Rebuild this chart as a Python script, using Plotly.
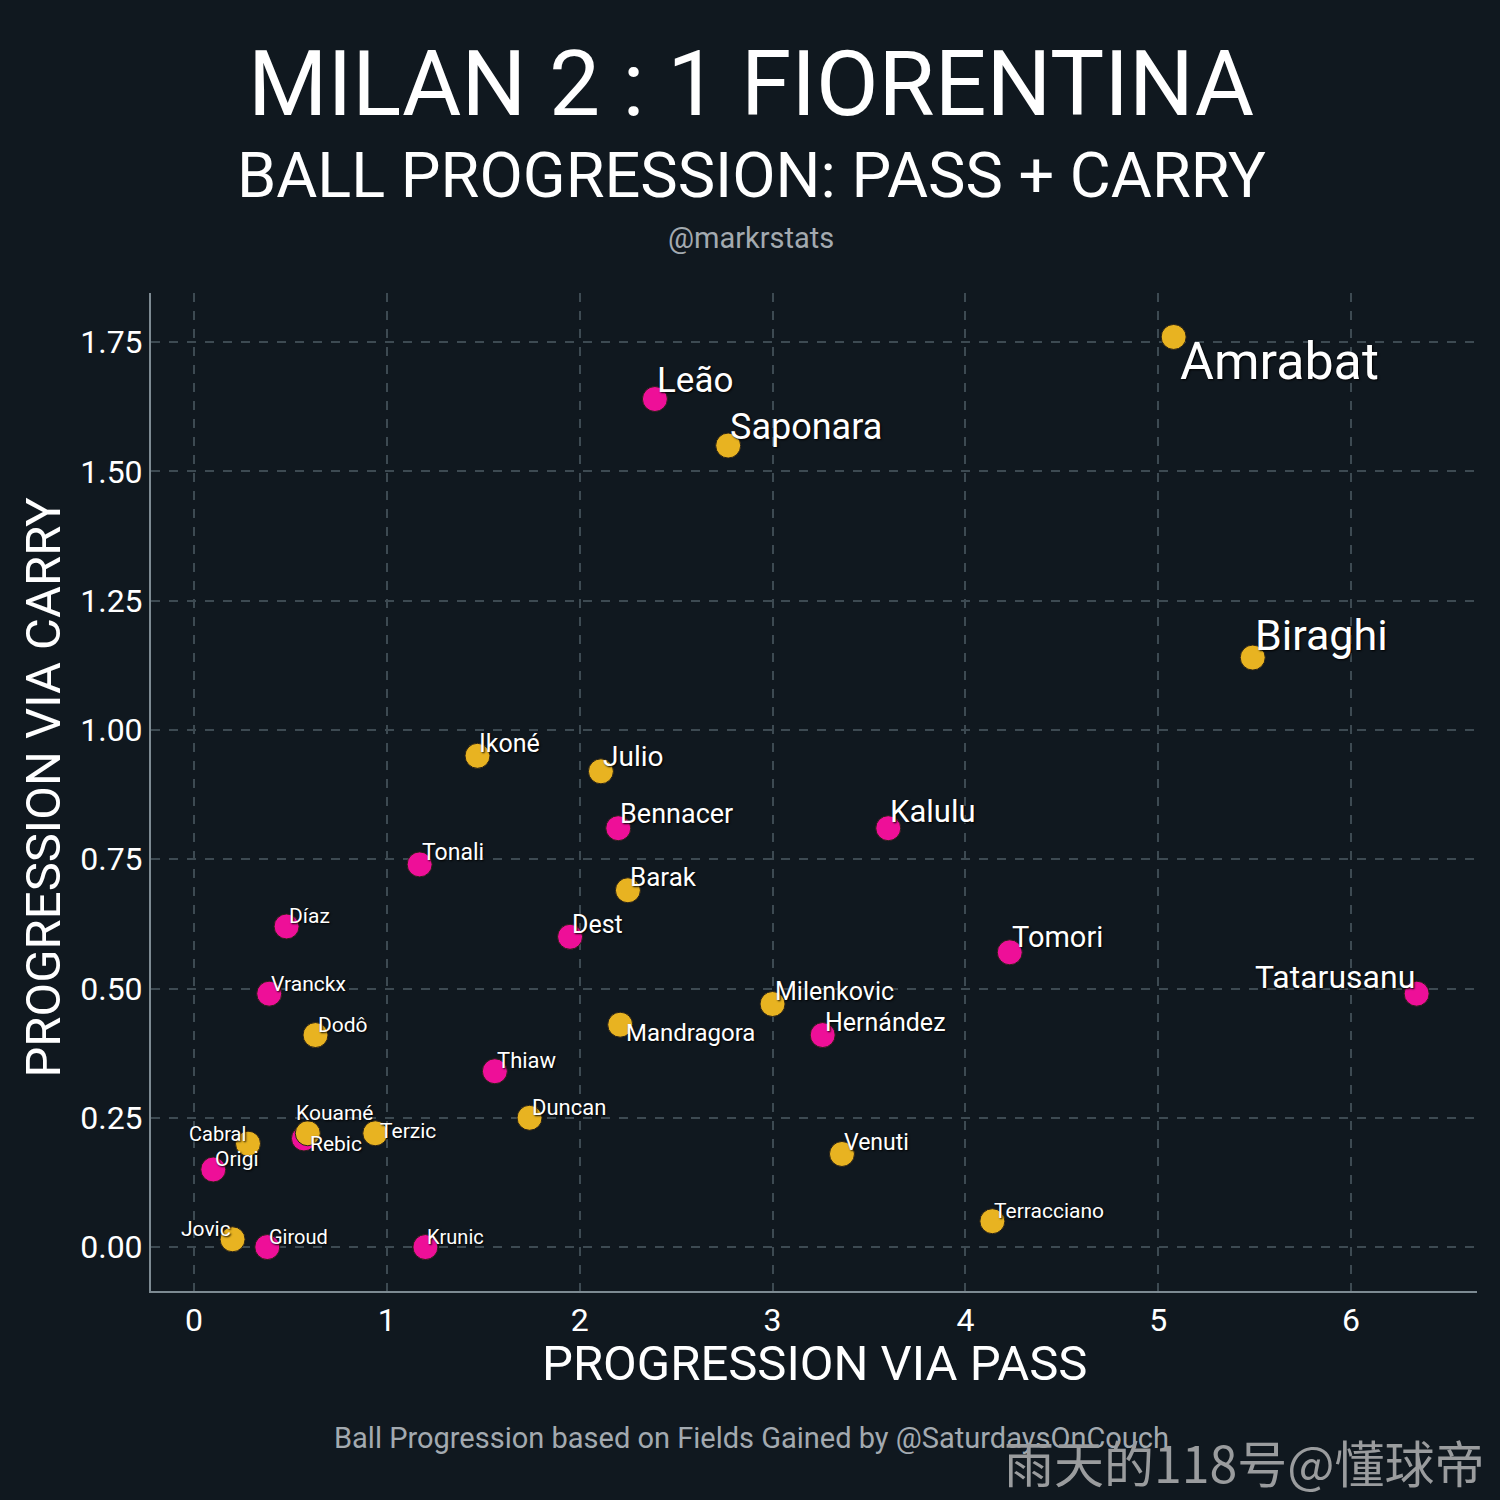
import plotly.graph_objects as go

# player data
players = ["Amrabat", "Leão", "Saponara", "Biraghi", "Ikoné", "Julio", "Bennacer",
           "Kalulu", "Tonali", "Barak", "Díaz", "Dest", "Tomori", "Vranckx",
           "Tatarusanu", "Milenkovic", "Mandragora", "Hernández", "Dodô", "Thiaw",
           "Duncan", "Cabral", "Rebic", "Kouamé", "Terzic", "Origi", "Venuti",
           "Terracciano", "Jovic", "Giroud", "Krunic"]
team = ["FIO", "MIL", "FIO", "FIO", "FIO", "FIO", "MIL",
        "MIL", "MIL", "FIO", "MIL", "MIL", "MIL", "MIL",
        "MIL", "FIO", "FIO", "MIL", "FIO", "MIL",
        "FIO", "FIO", "MIL", "FIO", "FIO", "MIL", "FIO",
        "FIO", "FIO", "MIL", "MIL"]
pass_prog = [5.08, 2.39, 2.77, 5.49, 1.47, 2.11, 2.20,
             3.60, 1.17, 2.25, 0.48, 1.95, 4.23, 0.39,
             6.34, 3.00, 2.21, 3.26, 0.63, 1.56,
             1.74, 0.28, 0.57, 0.59, 0.94, 0.10, 3.36,
             4.14, 0.20, 0.38, 1.20]
carry_prog = [1.76, 1.64, 1.55, 1.14, 0.95, 0.92, 0.81,
              0.81, 0.74, 0.69, 0.62, 0.60, 0.57, 0.49,
              0.49, 0.47, 0.43, 0.41, 0.41, 0.34,
              0.25, 0.20, 0.21, 0.22, 0.22, 0.15, 0.18,
              0.05, 0.015, 0.0, 0.0]

# label styling
label_size = [52, 35, 36, 43, 25, 28, 27,
              31, 23, 26, 21, 25, 29, 21,
              32, 25, 24, 25, 21, 22,
              22, 20, 21, 21, 21, 21, 23,
              21, 21, 20, 20]
label_pos = ["dr", "ur", "ur", "ur", "ur", "ur", "ur",
             "ur", "ur", "ur", "ur", "ur", "ur", "ur",
             "ul", "ur", "dr", "ur", "ur", "ur",
             "ur", "ul", "dr", "u", "r", "ur", "ur",
             "ur", "ul", "ur", "ur"]

colors = {"MIL": "#ee0f98", "FIO": "#e8b321"}
bg = "#10181f"

fig = go.Figure()

for t in ["MIL", "FIO"]:
    idx = [i for i in range(len(players)) if team[i] == t]
    fig.add_trace(go.Scatter(
        x=[pass_prog[i] for i in idx],
        y=[carry_prog[i] for i in idx],
        mode="markers",
        marker=dict(size=25, color=colors[t], line=dict(color="#2a2218", width=1)),
        hoverinfo="skip",
        showlegend=False,
    ))

for i, name in enumerate(players):
    p = label_pos[i]
    a = dict(x=pass_prog[i], y=carry_prog[i], text=name, showarrow=False,
             font=dict(family="Roboto", size=label_size[i], color="white",
                       shadow="1px 1px 2px #000000"))
    if p == "ur":
        a.update(xanchor="left", yanchor="bottom", xshift=0, yshift=-4)
    elif p == "dr":
        a.update(xanchor="left", yanchor="top", xshift=4, yshift=8)
    elif p == "ul":
        a.update(xanchor="right", yanchor="bottom", xshift=0, yshift=-4)
    elif p == "u":
        a.update(xanchor="left", yanchor="bottom", xshift=-14, yshift=6)
    elif p == "r":
        a.update(xanchor="left", yanchor="middle", xshift=3, yshift=2)
    fig.add_annotation(**a)


def paper_text(text, x, y, size, color, family="Roboto", xanchor="center", angle=0):
    fig.add_annotation(text=text, xref="paper", yref="paper", x=x, y=y,
                       xanchor=xanchor, yanchor="middle", showarrow=False,
                       textangle=angle, font=dict(family=family, size=size, color=color))


# titles
paper_text("MILAN 2 : 1 FIORENTINA", 0.4525, 1.2094, 91, "white")
paper_text("BALL PROGRESSION: PASS + CARRY", 0.4525, 1.1182, 63, "white")
paper_text("@markrstats", 0.4525, 1.0556, 29, "#a3aab0")

# axis titles
paper_text("PROGRESSION VIA PASS", 0.5, -0.073, 49, "white")
paper_text("PROGRESSION VIA CARRY", -0.0814, 0.5045, 49, "white", angle=-90)

# footer + watermark
paper_text("Ball Progression based on Fields Gained by @SaturdaysOnCouch",
           0.4525, -0.1468, 29, "#a3aab0")
paper_text("雨天的118号@懂球帝", 1.0075, -0.1703, 50, "#9a9c9e",
           family="Noto Sans CJK SC", xanchor="right")

axis_common = dict(showgrid=True, gridcolor="#3d4a52", griddash="dash", gridwidth=1.5,
                   zeroline=False, showline=True, linecolor="#7d8a92", linewidth=2,
                   ticks="", tickfont=dict(family="Roboto", size=32, color="white"))

fig.update_xaxes(range=[-0.223, 6.653], tickvals=[0, 1, 2, 3, 4, 5, 6], **axis_common)
fig.update_yaxes(range=[-0.085, 1.845], tickvals=[0, 0.25, 0.5, 0.75, 1.0, 1.25, 1.5, 1.75],
                 tickformat=".2f", **axis_common)

fig.update_layout(
    width=1500, height=1500,
    paper_bgcolor=bg, plot_bgcolor=bg,
    margin=dict(l=151, r=23, t=293, b=209),
    showlegend=False,
)

fig.write_html("out.html", config={"displayModeBar": False},
               post_script="document.body.style.margin='0';")
